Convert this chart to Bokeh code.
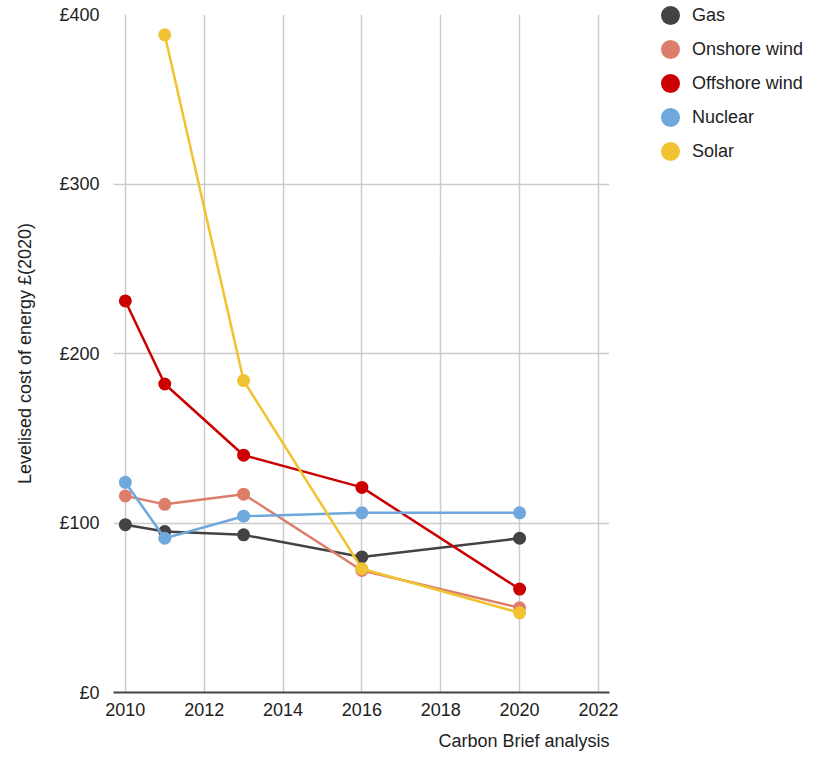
from bokeh.plotting import figure
from bokeh.models import ColumnDataSource, FixedTicker, Range1d, Legend, LegendItem, Title
from bokeh.embed import file_html
from bokeh.resources import INLINE

# ---- data ----
series_names = ["Gas", "Onshore wind", "Offshore wind", "Nuclear", "Solar"]
series_colors = ["#434343", "#dd7e6b", "#cc0000", "#6fa8dc", "#f1c232"]

gas_years = [2010, 2011, 2013, 2016, 2020]
gas_cost = [99, 95, 93, 80, 91]

onshore_years = [2010, 2011, 2013, 2016, 2020]
onshore_cost = [116, 111, 117, 72, 50]

offshore_years = [2010, 2011, 2013, 2016, 2020]
offshore_cost = [231, 182, 140, 121, 61]

nuclear_years = [2010, 2011, 2013, 2016, 2020]
nuclear_cost = [124, 91, 104, 106, 106]

solar_years = [2011, 2013, 2016, 2020]
solar_cost = [388, 184, 73, 47]

x_ticks = [2010, 2012, 2014, 2016, 2018, 2020, 2022]
y_ticks = [0, 100, 200, 300, 400]
y_tick_labels = ["£0", "£100", "£200", "£300", "£400"]

y_title = "Levelised cost of energy £(2020)"
source_note = "Carbon Brief analysis"

all_years = [gas_years, onshore_years, offshore_years, nuclear_years, solar_years]
all_costs = [gas_cost, onshore_cost, offshore_cost, nuclear_cost, solar_cost]

FONT = "Liberation Sans"
TXT = "#222222"

p = figure(frame_width=496, frame_height=678, output_backend="svg", toolbar_location=None,
           x_range=Range1d(2009.7, 2022.28), y_range=Range1d(0, 400),
           min_border_left=113, min_border_right=210, min_border_top=14,
           min_border_bottom=75)
p.outline_line_color = None
p.background_fill_color = "white"

# axes
p.xaxis.ticker = FixedTicker(ticks=x_ticks)
p.yaxis.ticker = FixedTicker(ticks=y_ticks)
p.yaxis.major_label_overrides = {t: l for t, l in zip(y_ticks, y_tick_labels)}
p.xaxis.major_label_overrides = {t: str(t) for t in x_ticks}
for ax in (p.xaxis, p.yaxis):
    ax.major_tick_line_color = None
    ax.minor_tick_line_color = None
    ax.major_label_text_font = FONT
    ax.major_label_text_font_size = "18px"
    ax.major_label_text_color = TXT
p.yaxis.axis_line_color = None
p.yaxis.major_label_standoff = 8
p.xaxis.axis_line_color = "#444444"
p.xaxis.axis_line_width = 2
p.xaxis.major_label_standoff = 4

p.yaxis.axis_label = y_title
p.yaxis.axis_label_text_font = FONT
p.yaxis.axis_label_text_font_style = "normal"
p.yaxis.axis_label_text_font_size = "18px"
p.yaxis.axis_label_text_color = TXT
p.yaxis.axis_label_standoff = 21

# grid
p.xgrid.ticker = FixedTicker(ticks=x_ticks)
p.ygrid.ticker = FixedTicker(ticks=y_ticks)
for g in (p.xgrid, p.ygrid):
    g.grid_line_color = "#cccccc"
    g.grid_line_width = 1.5

# series: marker = small core + thick outline (13px on the plot, ~19px in the legend)
legend_items = []
for name, color, xs, ys in zip(series_names, series_colors, all_years, all_costs):
    src = ColumnDataSource(dict(x=xs, y=ys))
    p.line("x", "y", source=src, line_color=color, line_width=2.5)
    r = p.scatter("x", "y", source=src, size=7.6, fill_color=color, line_color=color,
                  line_width=5.4)
    legend_items.append(LegendItem(label=name, renderers=[r]))

legend = Legend(items=legend_items, location=(41, 524), orientation="vertical")
legend.border_line_color = None
legend.background_fill_alpha = 0
legend.padding = 0
legend.margin = 0
legend.spacing = 0
legend.glyph_width = 40
legend.glyph_height = 34
legend.label_height = 20
legend.label_standoff = 2
legend.label_text_font = FONT
legend.label_text_font_size = "18px"
legend.label_text_color = TXT
p.add_layout(legend, "right")

# source note (x-axis title, right aligned to the plot area)
note = Title(text=source_note, align="right", text_font=FONT, text_font_size="18px",
             text_font_style="normal", text_color=TXT, standoff=20)
p.add_layout(note, "below")

open("out.html", "w").write(file_html(p, INLINE))
